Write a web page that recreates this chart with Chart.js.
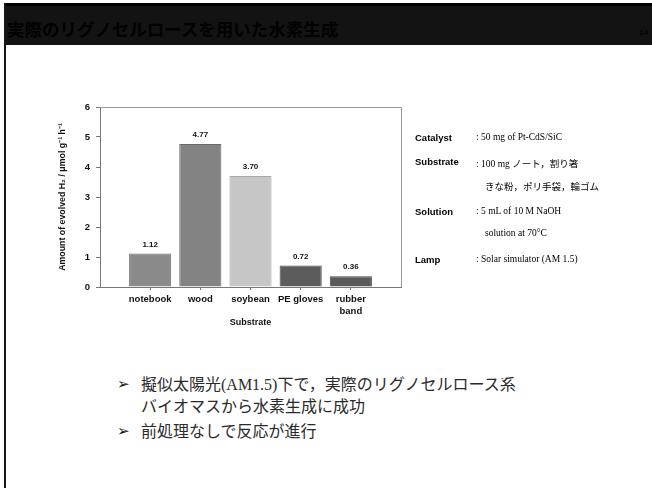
<!DOCTYPE html>
<html>
<head>
<meta charset="utf-8">
<script src="https://cdn.jsdelivr.net/npm/chart.js@4/dist/chart.umd.min.js"></script>
<style>
  body { margin: 0; background: #fff; }
  #slide { position: relative; width: 652px; height: 488px; overflow: hidden; background: #fff; }
  .abs { position: absolute; white-space: nowrap; }
  #bar { left: 4px; top: 3px; width: 648px; height: 39px; background: #131313; border-top: 3px solid #000; }
  #edge { left: 4px; top: 3px; width: 2px; height: 485px; background: #161616; }
  #title { left: 7px; top: 17px; font: bold 17.5px "Noto Sans CJK JP", sans-serif; color: #020202; line-height: 24px; }
  #page { right: 4px; top: 28px; font: bold 8px "Liberation Sans", Arial, sans-serif; color: #020202; }
  .lbl { font: bold 9.5px "Liberation Sans", Arial, sans-serif; color: #000; }
  .val { font: 9.5px "Liberation Serif", "Noto Sans CJK JP", serif; color: #000; }
  .bul { font: 16px "Liberation Serif", "Noto Sans CJK JP", serif; color: #2a2a2a; line-height: 22px; }
  .arw { font: 15px "DejaVu Sans", sans-serif; color: #111; }
  #chartBox { position: absolute; left: 40px; top: 90px; width: 380px; height: 250px; }
</style>
</head>
<body>
<div id="slide">
  <div class="abs" id="bar"></div>
  <div class="abs" id="edge"></div>
  <div class="abs" id="title">実際のリグノセルロースを用いた水素生成</div>
  <div class="abs" id="page">14</div>

  <div id="chartBox"><canvas id="chart"></canvas></div>

  <div class="abs lbl" style="left:415px; top:132px;">Catalyst</div>
  <div class="abs val" style="left:476px; top:132px;">: 50 mg of Pt-CdS/SiC</div>
  <div class="abs lbl" style="left:415px; top:156px;">Substrate</div>
  <div class="abs val" style="left:476px; top:156px;">: 100 mg ノート，割り箸</div>
  <div class="abs val" style="left:485px; top:179px;">きな粉，ポリ手袋，輪ゴム</div>
  <div class="abs lbl" style="left:415px; top:206px;">Solution</div>
  <div class="abs val" style="left:476px; top:206px;">: 5 mL of 10 M NaOH</div>
  <div class="abs val" style="left:485px; top:228px;">solution at 70°C</div>
  <div class="abs lbl" style="left:415px; top:254px;">Lamp</div>
  <div class="abs val" style="left:476px; top:254px;">: Solar simulator (AM 1.5)</div>

  <div class="abs arw" style="left:117px; top:375px;">➢</div>
  <div class="abs bul" style="left:141px; top:374px;">擬似太陽光(AM1.5)下で，実際のリグノセルロース系<br>バイオマスから水素生成に成功</div>
  <div class="abs arw" style="left:117px; top:422px;">➢</div>
  <div class="abs bul" style="left:141px; top:421px;">前処理なしで反応が進行</div>
</div>

<script>
// substrates tested (x), evolved H2 rate (y)
const substrates = ['notebook', 'wood', 'soybean', 'PE gloves', ['rubber', 'band']];
const h2Rates = [1.12, 4.77, 3.70, 0.72, 0.36];
const barColors = ['#8a8a8a', '#838383', '#c6c6c6', '#5c5c5c', '#5a5a5a'];
const edgeColors = ['#6e6e6e', '#6a6a6a', '#a8a8a8', '#4a4a4a', '#484848'];
const slots = [1, 2, 3, 4, 5];
const yTicks = [0, 1, 2, 3, 4, 5, 6];

const axisFont = { family: '"Liberation Sans", Arial, sans-serif', size: 9, weight: 'bold' };

// frame on top / right and value labels on the bars
const extras = {
    id: 'extras',
    beforeDatasetsDraw(chart) {
        const { ctx, chartArea: a } = chart;
        ctx.save();
        ctx.strokeStyle = '#9a9a9a';
        ctx.lineWidth = 1;
        ctx.beginPath();
        ctx.moveTo(a.left, a.top + 0.5);
        ctx.lineTo(a.right + 0.5, a.top + 0.5);
        ctx.lineTo(a.right + 0.5, a.bottom);
        ctx.stroke();
        ctx.restore();
    },
    afterDatasetsDraw(chart) {
        const { ctx } = chart;
        const meta = chart.getDatasetMeta(0);
        ctx.save();
        ctx.font = 'bold 8px "Liberation Sans", Arial, sans-serif';
        ctx.fillStyle = '#111';
        ctx.textAlign = 'center';
        ctx.textBaseline = 'middle';
        meta.data.forEach((bar, i) => {
            ctx.fillText(h2Rates[i].toFixed(2), bar.x, bar.y - 9);
        });
        ctx.restore();
    }
};

new Chart(document.getElementById('chart').getContext('2d'), {
    type: 'bar',
    data: {
        datasets: [{
            data: slots.map((s, i) => ({ x: s, y: h2Rates[i] })),
            backgroundColor: barColors,
            borderColor: edgeColors,
            borderWidth: 1,
            barPercentage: 0.84,
            categoryPercentage: 1
        }]
    },
    options: {
        responsive: true,
        maintainAspectRatio: false,
        animation: false,
        layout: { padding: { left: 0, top: 17, right: 19, bottom: 0 } },
        plugins: { legend: { display: false }, tooltip: { enabled: false } },
        scales: {
            x: {
                type: 'linear',
                min: 0, max: 6,
                offset: false,
                afterBuildTicks: s => { s.ticks = slots.map(v => ({ value: v })); },
                afterFit: s => { s.height = 53; },
                grid: { display: true, drawOnChartArea: false, drawTicks: true, tickLength: 3, color: '#777', offset: false },
                border: { color: '#777', width: 1 },
                ticks: {
                    autoSkip: false, maxRotation: 0, padding: 3,
                    color: '#111', font: { ...axisFont, size: 9.5, lineHeight: 1.3 },
                    callback: v => substrates[v - 1]
                },
                title: {
                    display: true, text: 'Substrate', color: '#111',
                    font: { ...axisFont, size: 9 }, padding: { top: 0, bottom: 12 }
                }
            },
            y: {
                min: 0, max: 6,
                afterBuildTicks: s => { s.ticks = yTicks.map(v => ({ value: v })); },
                afterFit: s => { s.width = 60; },
                grid: { display: true, drawOnChartArea: false, drawTicks: true, tickLength: 4, color: '#777' },
                border: { color: '#777', width: 1 },
                ticks: { padding: 6, color: '#111', font: { ...axisFont, size: 9.5 } },
                title: {
                    display: true, text: 'Amount of evolved H₂ / μmol g⁻¹ h⁻¹', color: '#111',
                    font: { ...axisFont, size: 8.8 }, padding: { top: 17, bottom: 0 }
                }
            }
        }
    },
    plugins: [extras]
});
</script>
</body>
</html>
